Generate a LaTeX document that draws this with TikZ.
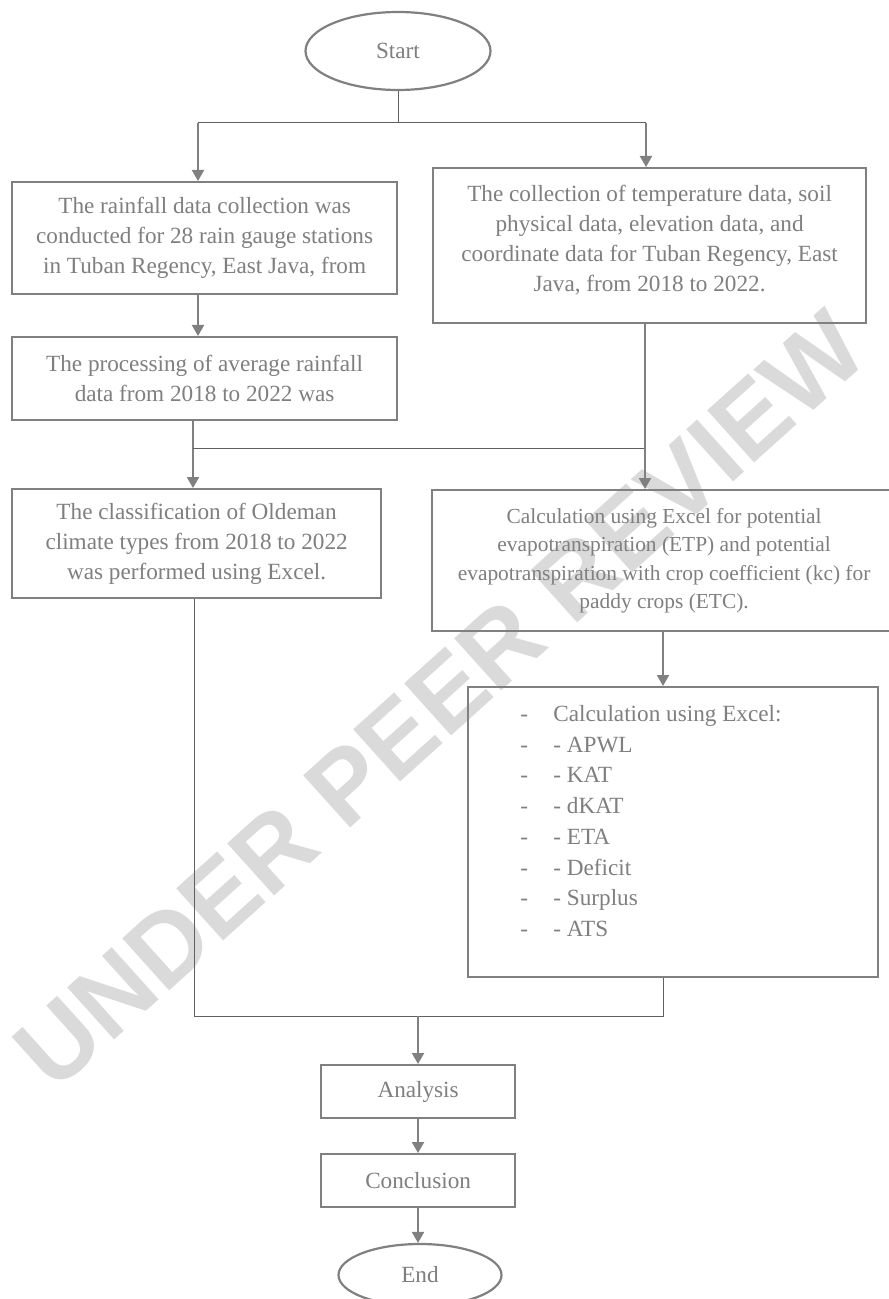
\documentclass[tikz,border=0pt]{standalone}
\usepackage{fontspec}
\setmainfont{Liberation Serif}
\newfontfamily\wmfont{Liberation Sans Bold}
\usetikzlibrary{arrows.meta,shapes.geometric}
\definecolor{txtgray}{HTML}{7F7F7F}
\definecolor{linegray}{HTML}{808080}
\definecolor{thingray}{HTML}{606060}
\definecolor{wmgray}{HTML}{DADADA}
\newcommand\upx{0.5pt}
\newcommand\mainsz{\fontsize{11.6pt}{15pt}\selectfont}
\newcommand\smallsz{\fontsize{10.7pt}{14.2pt}\selectfont}
\newcommand\listsz{\fontsize{11.6pt}{15.35pt}\selectfont}
\newcommand\dashitem[1]{\makebox[16.5pt][l]{-}#1}
\begin{document}
\begin{tikzpicture}[x=0.5pt,y=-0.5pt,
  box/.style={draw=linegray, line width=1.1pt, rectangle, inner sep=0pt, anchor=north west, text=txtgray, align=center, font=\mainsz},
  oval/.style={draw=linegray, line width=1.1pt, ellipse, inner sep=0pt, text=txtgray, font=\mainsz},
  conn/.style={draw=thingray, line width=0.5pt},
  arr/.style={draw=linegray, line width=1pt, -{Triangle[width=6pt,length=5.5pt]}}
]
\useasboundingbox (0,0) rectangle (888,1299);
\fill[white] (0,0) rectangle (888,1299);

% watermark
\node[rotate=42, text=wmgray, font=\wmfont\fontsize{51pt}{51pt}\selectfont, inner sep=0pt] (wm) at (440,700) {UNDER PEER REVIEW};

% nodes
\node[oval, minimum width=185*\upx, minimum height=78*\upx] (start) at (398,51) {Start};
\node[box, minimum width=385*\upx, minimum height=112*\upx] (b1) at (11,181)
  {The rainfall data collection was\\conducted for 28 rain gauge stations\\in Tuban Regency, East Java, from};
\node[box, minimum width=385*\upx, minimum height=83*\upx] (b2) at (11,336)
  {The processing of average rainfall\\data from 2018 to 2022 was};
\node[box, minimum width=369*\upx, minimum height=109*\upx] (b3) at (11,488)
  {The classification of Oldeman\\climate types from 2018 to 2022\\was performed using Excel.};
\node[box, minimum width=433*\upx, minimum height=155*\upx] (r1) at (432,167)
  {The collection of temperature data, soil\\physical data, elevation data, and\\coordinate data for Tuban Regency, East\\Java, from 2018 to 2022.\\[-8pt]\mbox{}};
\node[box, minimum width=464*\upx, minimum height=141*\upx, font=\smallsz] (r2) at (431,489)
  {Calculation using Excel for potential\\evapotranspiration (ETP) and potential\\evapotranspiration with crop coefficient (kc) for\\paddy crops (ETC).};
\node[box, minimum width=410*\upx, minimum height=290*\upx] (r3) at (467,686) {};
\node[anchor=north west, inner sep=0pt, text=txtgray, font=\listsz, align=left] (r3t) at (520,705)
  {\dashitem{Calculation using Excel:}\\\dashitem{- APWL}\\\dashitem{- KAT}\\\dashitem{- dKAT}\\\dashitem{- ETA}\\\dashitem{- Deficit}\\\dashitem{- Surplus}\\\dashitem{- ATS}};
\node[box, minimum width=194*\upx, minimum height=53*\upx] (an) at (320,1064) {Analysis};
\node[box, minimum width=194*\upx, minimum height=53*\upx] (co) at (320,1153) {Conclusion};
\node[oval, minimum width=163*\upx, minimum height=62*\upx] (end) at (420,1275) {End};

% junction coordinates
\coordinate (jt) at (398,123);
\coordinate (jtl) at (198,123);
\coordinate (jtr) at (646,123);
\coordinate (jml) at (193,448);
\coordinate (jmr) at (645,448);
\coordinate (cl) at (194,1016);
\coordinate (cr) at (663,1016);
\coordinate (cm) at (418,1016);

% connectors
\draw[conn] (start.south) -- (jt);
\draw[conn] (jtl) -- (jtr);
\draw[arr] (jtl) -- (jtl |- b1.north);
\draw[arr] (jtr) -- (jtr |- r1.north);
\draw[arr] (b1.south -| jtl) -- (b2.north -| jtl);
\draw[arr] (b2.south -| jml) -- (b3.north -| jml);
\draw[conn] (jml) -- (jmr);
\draw[arr] (r1.south -| jmr) -- (r2.north -| jmr);
\draw[arr] (r2.south -| cr) -- (r3.north -| cr);
\draw[conn] (b3.south -| cl) -- (cl) -- (cr) -- (r3.south -| cr);
\draw[arr] (cm) -- (an.north -| cm);
\draw[arr] (an.south -| cm) -- (co.north -| cm);
\draw[arr] (co.south -| cm) -- (end.north -| cm);
\end{tikzpicture}
\end{document}
